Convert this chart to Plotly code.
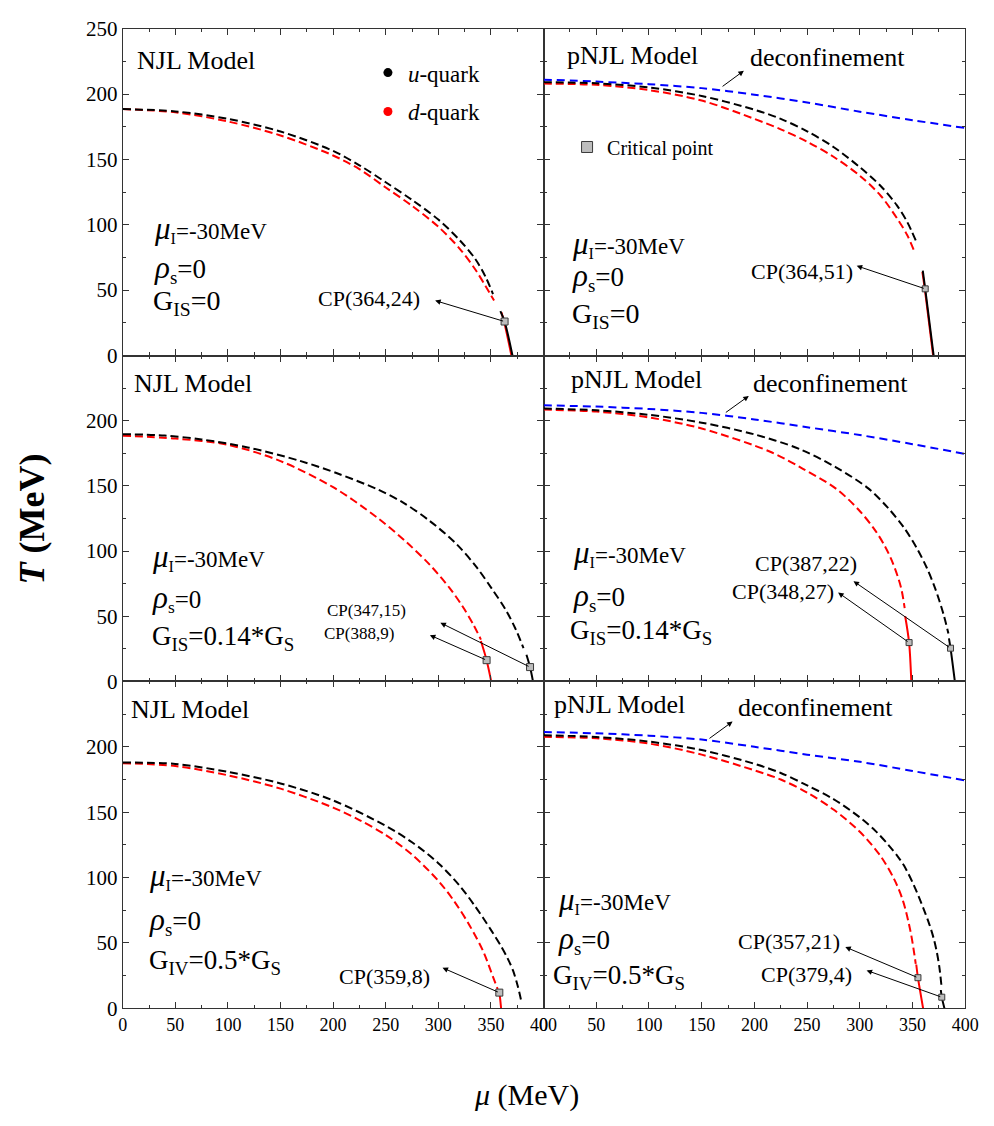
import plotly.graph_objects as go

# ================= DATA =================
# Panel 1: NJL, G_IS = 0
p1_u_dash_mu = [0, 50, 100, 150, 200, 225, 250, 275, 300, 320, 335, 345, 352]
p1_u_dash_T = [188.5, 186.7, 181, 171.3, 156.5, 145.5, 132.5, 119, 104, 88.5, 74, 60, 47]
p1_d_dash_mu = [0, 50, 100, 150, 200, 225, 250, 275, 300, 320, 335, 345, 353]
p1_d_dash_T = [188.5, 186, 179, 168.3, 153, 142.5, 128.5, 114.5, 98.5, 82, 66, 53, 42]
p1_u_solid_mu = [359, 363, 370.5]
p1_u_solid_T = [34, 26, 0]
p1_d_solid_mu = [360, 362.5, 369.5]
p1_d_solid_T = [33, 26, 0]
p1_cp_mu = [363]
p1_cp_T = [26]

# Panel 2: pNJL, G_IS = 0
p2_blue_mu = [0, 50, 100, 150, 200, 250, 300, 350, 400]
p2_blue_T = [211, 209.5, 207.5, 204.5, 199.5, 193.5, 186.5, 180, 174]
p2_u_dash_mu = [0, 50, 100, 150, 200, 225, 250, 275, 300, 320, 335, 345, 353]
p2_u_dash_T = [209, 208.2, 205, 198.5, 188, 181, 171.5, 159.5, 144, 129.5, 115, 102, 88]
p2_d_dash_mu = [0, 50, 100, 150, 200, 225, 250, 275, 300, 320, 336, 345, 351]
p2_d_dash_T = [208, 207, 203, 195, 181, 173, 163.5, 152, 137.5, 122, 104, 92, 81]
p2_u_solid_mu = [359.7, 362, 370]
p2_u_solid_T = [65, 51, 0]
p2_d_solid_mu = [359.3, 361.6, 369.5]
p2_d_solid_T = [64, 51, 0]
p2_cp_mu = [362]
p2_cp_T = [51]

# Panel 3: NJL, G_IS = 0.14*G_S
p3_u_dash_mu = [0, 40, 75, 120, 168, 205, 242, 267, 292, 317, 336, 351, 364, 373, 381]
p3_u_dash_T = [189.7, 188.6, 185.6, 179.3, 169.3, 159.3, 147.4, 137, 123, 105.6, 88, 71, 55, 41, 25.5]
p3_d_dash_mu = [0, 50, 100, 150, 200, 242, 270, 292, 311, 323, 333, 340.5]
p3_d_dash_T = [188.5, 186.3, 181.5, 169, 149, 125.6, 106.6, 89.4, 71.4, 57.6, 44.1, 32.1]
p3_u_solid_mu = [383.8, 387.2, 390]
p3_u_solid_T = [20.5, 11, 0]
p3_d_solid_mu = [340.5, 345.9, 350.3]
p3_d_solid_T = [31, 16.3, 0]
p3_cp_mu = [345.9, 387.2]
p3_cp_T = [16.3, 11]

# Panel 4: pNJL, G_IS = 0.14*G_S
p4_blue_mu = [0, 50, 100, 150, 200, 250, 300, 350, 400]
p4_blue_T = [211.8, 210.8, 209, 206, 201, 195, 189, 182, 174.5]
p4_u_dash_mu = [0, 50, 100, 150, 200, 243, 277, 308, 326.5, 342, 354.4, 363.7, 371.5, 379.3, 384]
p4_u_dash_T = [209.3, 208, 204.5, 198.5, 189.5, 178.2, 164.4, 148.1, 133.3, 117.8, 101.7, 86.8, 71.2, 51.7, 36.7]
p4_d_dash_mu = [0, 50, 100, 150, 215, 246, 277, 298.6, 314, 323.4, 331.2, 338.9, 342.5]
p4_d_dash_T = [208.5, 207, 202.5, 194, 176.2, 163.1, 148.1, 131.9, 116.5, 104.3, 91, 72.5, 56.3]
p4_u_solid_mu = [384.5, 386, 390.1]
p4_u_solid_T = [33, 25.5, 0]
p4_d_solid_mu = [343, 346.7, 348.8]
p4_d_solid_T = [50, 29.8, 0]
p4_cp_mu = [346.7, 386]
p4_cp_T = [29.8, 25.5]

# Panel 5: NJL, G_IV = 0.5*G_S
p5_u_dash_mu = [0, 50, 100, 150, 200, 250, 275, 300, 320, 335, 350, 360, 366, 371, 375.5, 379.3]
p5_u_dash_T = [188, 186.9, 180.8, 172, 159, 139.5, 127, 111, 94, 78, 60, 47, 38, 29, 17, 4]
p5_d_dash_mu = [0, 50, 100, 150, 200, 225, 250, 275, 300, 315, 330, 343, 352, 356.4]
p5_d_dash_T = [187.5, 185.3, 178.2, 168, 153.5, 144, 132.5, 117.5, 97.5, 82, 63, 43, 24, 14.7]
p5_d_solid_mu = [357.4, 358, 359.7]
p5_d_solid_T = [13.5, 12, 0]
p5_cp_mu = [358]
p5_cp_T = [12]

# Panel 6: pNJL, G_IV = 0.5*G_S
p6_blue_mu = [0, 50, 100, 150, 200, 250, 300, 350, 400]
p6_blue_T = [211.3, 210.3, 208.5, 205.5, 200, 194, 188.5, 181.5, 174.3]
p6_u_dash_mu = [0, 50, 100, 150, 200, 225, 250, 275, 300, 315, 327, 336, 342, 351, 360, 366, 370, 373, 375.5, 377.3]
p6_u_dash_T = [208.8, 207.5, 204, 197.5, 187, 180, 170.5, 160, 146, 135.5, 125, 116, 109, 94.5, 77, 64, 53.5, 43, 31, 18]
p6_d_dash_mu = [0, 50, 100, 150, 200, 225, 250, 275, 300, 320, 333, 341, 348, 351.3, 353]
p6_d_dash_T = [207.6, 206.5, 202.5, 194, 182, 175, 165, 152, 135, 116, 98, 82, 59, 43.4, 34]
p6_u_solid_mu = [376.8, 377.7, 380.2]
p6_u_solid_T = [14, 8.5, 0]
p6_d_solid_mu = [353.5, 355.1, 360]
p6_d_solid_T = [33.5, 23.4, 0]
p6_cp_mu = [355.1, 377.7]
p6_cp_T = [23.4, 8.5]

x_ticks = [0, 50, 100, 150, 200, 250, 300, 350, 400]
y_ticks_top = [0, 50, 100, 150, 200, 250]
y_ticks_low = [0, 50, 100, 150, 200]

# ================= FIGURE =================
FONT = "Liberation Serif, Times New Roman, serif"
W, H = 994, 1126

def P(x, y):
    return x / W, 1 - y / H

fig = go.Figure()

XD = {'L': [120 / W, 549 / W], 'R': [549 / W, 979 / W]}
YD = {1: [1 - 351 / H, 1 - 17 / H], 2: [1 - 684 / H, 1 - 351 / H], 3: [1 - 1018 / H, 1 - 684 / H]}
panels = [(1, 'L'), (1, 'R'), (2, 'L'), (2, 'R'), (3, 'L'), (3, 'R')]

DASH_K = "8px,4px"
DASH_B = "8px,5px"

def line(i, mu, T, color, dash=None, width=2.0):
    fig.add_trace(go.Scatter(
        x=mu, y=T, mode='lines', xaxis=f'x{i}', yaxis=f'y{i}', showlegend=False,
        line=dict(color=color, width=width, dash=dash if dash else 'solid', shape='spline', smoothing=0.9),
        hoverinfo='skip'))

def cps(i, mu, T, size=7):
    fig.add_trace(go.Scatter(
        x=mu, y=T, mode='markers', xaxis=f'x{i}', yaxis=f'y{i}', showlegend=False,
        marker=dict(symbol='square', size=size, color='#bdbdbd', line=dict(color='#3a3a3a', width=1)),
        hoverinfo='skip'))

# Panel 1
line(1, p1_d_dash_mu, p1_d_dash_T, 'red', DASH_K)
line(1, p1_u_dash_mu, p1_u_dash_T, 'black', DASH_K)
line(1, p1_d_solid_mu, p1_d_solid_T, 'red', None, 2)
line(1, p1_u_solid_mu, p1_u_solid_T, 'black', None, 2)
# Panel 2
line(2, p2_blue_mu, p2_blue_T, 'blue', DASH_B)
line(2, p2_d_dash_mu, p2_d_dash_T, 'red', DASH_K)
line(2, p2_u_dash_mu, p2_u_dash_T, 'black', DASH_K)
line(2, p2_d_solid_mu, p2_d_solid_T, 'red', None, 2)
line(2, p2_u_solid_mu, p2_u_solid_T, 'black', None, 2)
# Panel 3
line(3, p3_d_dash_mu, p3_d_dash_T, 'red', DASH_K)
line(3, p3_u_dash_mu, p3_u_dash_T, 'black', DASH_K)
line(3, p3_d_solid_mu, p3_d_solid_T, 'red', None, 2)
line(3, p3_u_solid_mu, p3_u_solid_T, 'black', None, 2)
# Panel 4
line(4, p4_blue_mu, p4_blue_T, 'blue', DASH_B)
line(4, p4_d_dash_mu, p4_d_dash_T, 'red', DASH_K)
line(4, p4_u_dash_mu, p4_u_dash_T, 'black', DASH_K)
line(4, p4_d_solid_mu, p4_d_solid_T, 'red', None, 2)
line(4, p4_u_solid_mu, p4_u_solid_T, 'black', None, 2)
# Panel 5
line(5, p5_d_dash_mu, p5_d_dash_T, 'red', DASH_K)
line(5, p5_u_dash_mu, p5_u_dash_T, 'black', DASH_K)
line(5, p5_d_solid_mu, p5_d_solid_T, 'red', None, 2)
# Panel 6
line(6, p6_blue_mu, p6_blue_T, 'blue', DASH_B)
line(6, p6_d_dash_mu, p6_d_dash_T, 'red', DASH_K)
line(6, p6_u_dash_mu, p6_u_dash_T, 'black', DASH_K)
line(6, p6_d_solid_mu, p6_d_solid_T, 'red', None, 2)
line(6, p6_u_solid_mu, p6_u_solid_T, 'black', None, 2)

# critical points
cps(1, p1_cp_mu, p1_cp_T)
cps(2, p2_cp_mu, p2_cp_T, 6)
cps(3, p3_cp_mu, p3_cp_T)
cps(4, p4_cp_mu, p4_cp_T, 6)
cps(5, p5_cp_mu, p5_cp_T)
cps(6, p6_cp_mu, p6_cp_T, 6)

# legend entries
fig.add_trace(go.Scatter(x=[None], y=[None], mode='markers', name='<i>u</i>-quark',
                         marker=dict(color='black', size=9), legend='legend', legendgroup='u',
                         xaxis='x1', yaxis='y1'))
fig.add_trace(go.Scatter(x=[None], y=[None], mode='markers', name='<i>d</i>-quark',
                         marker=dict(color='red', size=9), legend='legend', legendgroup='d',
                         xaxis='x1', yaxis='y1'))
fig.add_trace(go.Scatter(x=[None], y=[None], mode='markers', name='Critical point',
                         marker=dict(symbol='square', size=11, color='#bdbdbd', line=dict(color='#3a3a3a', width=1)),
                         legend='legend2', xaxis='x2', yaxis='y2'))

# axes
layout_axes = {}
for i, (row, col) in enumerate(panels, start=1):
    layout_axes[f'xaxis{i}'] = dict(
        domain=XD[col], anchor=f'y{i}', range=[0, 400], tickvals=x_ticks,
        showticklabels=(row == 3), ticks='inside', ticklen=6, tickwidth=1.2, tickcolor='#333',
        minor=dict(dtick=25, tick0=0, ticks='inside', ticklen=3, tickcolor='#333', tickwidth=1),
        mirror='ticks', showline=True, linecolor='#333', linewidth=1.1,
        showgrid=False, zeroline=False, fixedrange=True,
        tickfont=dict(family=FONT, size=18, color='black'))
    layout_axes[f'yaxis{i}'] = dict(
        domain=YD[row], anchor=f'x{i}', range=[0, 250],
        tickvals=(y_ticks_top if row == 1 else y_ticks_low),
        showticklabels=(col == 'L'), ticks='inside', ticklen=6, tickwidth=1.2, tickcolor='#333',
        minor=dict(dtick=25, tick0=0, ticks='inside', ticklen=3, tickcolor='#333', tickwidth=1),
        mirror='ticks', showline=True, linecolor='#333', linewidth=1.1,
        showgrid=False, zeroline=False, fixedrange=True,
        tickfont=dict(family=FONT, size=21, color='black'))

annotations = []

def txt(x, y, text, size, xanchor='left', **kw):
    px_, py_ = P(x, y)
    annotations.append(dict(x=px_, y=py_, xref='paper', yref='paper', text=text, showarrow=False,
                            xanchor=xanchor, yanchor='middle',
                            font=dict(family=FONT, size=size, color='black'), **kw))

def arrow(i, head, tail):
    annotations.append(dict(x=head[0], y=head[1], ax=tail[0], ay=tail[1],
                            xref=f'x{i}', yref=f'y{i}', axref=f'x{i}', ayref=f'y{i}',
                            text='', showarrow=True, arrowhead=2, arrowsize=1.1, arrowwidth=1,
                            arrowcolor='black', standoff=0, startstandoff=0))

MU = '<span style="font-size:31px"><i>μ</i></span><sub>I</sub>=-30MeV'
RHO = '<span style="font-size:31px"><i>ρ</i></span><sub>s</sub>=0'

# model labels
txt(133, 50, 'NJL Model', 26)
txt(571, 44, 'pNJL Model', 26)
txt(129, 380, 'NJL Model', 26)
txt(575, 375, 'pNJL Model', 26)
txt(126, 713, 'NJL Model', 26)
txt(558, 708, 'pNJL Model', 26)
txt(757, 47, 'deconfinement', 26)
txt(761, 380, 'deconfinement', 26)
txt(745, 711, 'deconfinement', 26)

# parameters
txt(150, 222, MU, 23)
txt(150, 263, RHO, 27)
txt(149, 297, 'G<sub>IS</sub>=0', 28)

txt(576, 237, MU, 23)
txt(576, 271, RHO, 27)
txt(576, 310, 'G<sub>IS</sub>=0', 28)

txt(148, 557, MU, 23)
txt(148, 599, RHO, 25)
txt(148, 640, 'G<sub>IS</sub>=0.14*G<sub>S</sub>', 27)

txt(577, 553, MU, 23)
txt(577, 598, RHO, 27)
txt(574, 634, 'G<sub>IS</sub>=0.14*G<sub>S</sub>', 27)

txt(145, 883, MU, 23)
txt(145, 929, RHO, 27)
txt(145, 971, 'G<sub>IV</sub>=0.5*G<sub>S</sub>', 27)

txt(562, 907, MU, 23)
txt(562, 948, RHO, 27)
txt(557, 986, 'G<sub>IV</sub>=0.5*G<sub>S</sub>', 27)

# CP labels
txt(317, 293, 'CP(364,24)', 22)
txt(758, 265, 'CP(364,51)', 22)
txt(326, 612, 'CP(347,15)', 17)
txt(323, 635, 'CP(388,9)', 17)
txt(763, 563, 'CP(387,22)', 22)
txt(739, 592, 'CP(348,27)', 22)
txt(338, 985, 'CP(359,8)', 22)
txt(745, 950, 'CP(357,21)', 22)
txt(769, 983, 'CP(379,4)', 22)

# arrows (head near label, tail at marker)
arrow(1, (297, 42), (p1_cp_mu[0], p1_cp_T[0]))
arrow(2, (297, 68.6), (p2_cp_mu[0], p2_cp_T[0]))
arrow(3, (302, 45), (p3_cp_mu[1], p3_cp_T[1]))
arrow(3, (292, 35.5), (p3_cp_mu[0], p3_cp_T[0]))
arrow(4, (294, 76.9), (p4_cp_mu[1], p4_cp_T[1]))
arrow(4, (279.4, 68.2), (p4_cp_mu[0], p4_cp_T[0]))
arrow(5, (304, 31), (p5_cp_mu[0], p5_cp_T[0]))
arrow(6, (286.2, 46.9), (p6_cp_mu[0], p6_cp_T[0]))
arrow(6, (306.4, 29), (p6_cp_mu[1], p6_cp_T[1]))
arrow(2, (190, 217.8), (168.4, 205))
arrow(4, (194.7, 219), (171.5, 205.5))
arrow(6, (179.3, 219.3), (156, 205.6))

# axis titles
tx, ty = P(27, 518)
annotations.append(dict(x=tx, y=ty, xref='paper', yref='paper', text='<b><i>T</i> (MeV)</b>',
                        showarrow=False, textangle=-90, xanchor='center', yanchor='middle',
                        font=dict(family=FONT, size=36, color='black')))
tx, ty = P(532, 1107)
annotations.append(dict(x=tx, y=ty, xref='paper', yref='paper', text='<i>μ</i> (MeV)',
                        showarrow=False, xanchor='center', yanchor='middle',
                        font=dict(family=FONT, size=30, color='black')))

lx, ly = P(370, 40)
l2x, l2y = P(573, 118)
fig.update_layout(
    width=W, height=H, margin=dict(l=0, r=0, t=0, b=0),
    paper_bgcolor='white', plot_bgcolor='white',
    font=dict(family=FONT, color='black'),
    annotations=annotations,
    legend=dict(x=lx, y=ly, xanchor='left', yanchor='top', bgcolor='rgba(0,0,0,0)',
                font=dict(family=FONT, size=23, color='black'), tracegroupgap=6,
                traceorder='grouped', itemclick=False, itemdoubleclick=False),
    legend2=dict(x=l2x, y=l2y, xanchor='left', yanchor='top', bgcolor='rgba(0,0,0,0)',
                 font=dict(family=FONT, size=20, color='black'),
                 itemclick=False, itemdoubleclick=False),
    **layout_axes,
)

fig.write_html("out.html")
